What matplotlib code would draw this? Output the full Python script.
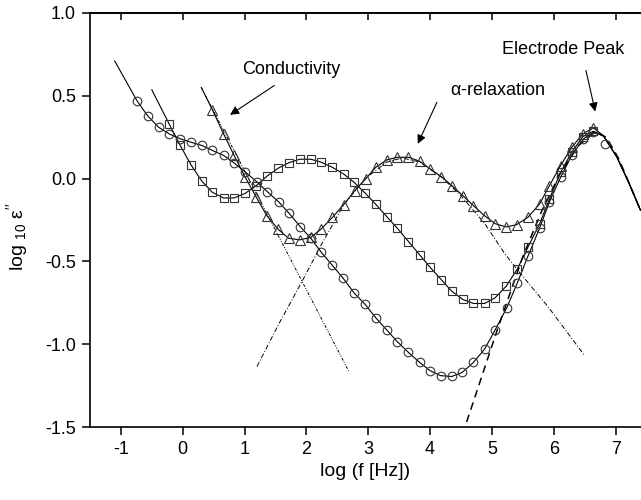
import matplotlib
matplotlib.use('Agg')
import matplotlib.pyplot as plt

plt.rcParams['font.family'] = ['Liberation Sans', 'DejaVu Sans']
plt.rcParams['mathtext.fontset'] = 'custom'
plt.rcParams['mathtext.rm'] = 'Liberation Sans'
plt.rcParams['axes.unicode_minus'] = False

# data (x = log f, y = log10 eps'')
circ_x = [-0.74, -0.57, -0.39, -0.22, -0.04, 0.13, 0.31, 0.48, 0.66, 0.83, 1.01, 1.20, 1.37,
          1.55, 1.72, 1.90, 2.07, 2.24, 2.41, 2.59, 2.77, 2.95, 3.12, 3.30, 3.47, 3.65, 3.83,
          4.00, 4.17, 4.35, 4.52, 4.70, 4.88, 5.05, 5.24, 5.41, 5.58, 5.77, 5.93, 6.11, 6.29,
          6.48, 6.64, 6.82]
circ_y = [0.47, 0.38, 0.31, 0.27, 0.24, 0.22, 0.20, 0.17, 0.14, 0.095, 0.04, -0.02, -0.08,
          -0.14, -0.21, -0.29, -0.36, -0.445, -0.52, -0.60, -0.69, -0.76, -0.84, -0.915, -0.985,
          -1.05, -1.11, -1.16, -1.19, -1.195, -1.17, -1.11, -1.03, -0.915, -0.78, -0.63, -0.47,
          -0.30, -0.14, 0.008, 0.14, 0.24, 0.28, 0.21]

sq_x = [-0.22, -0.04, 0.13, 0.31, 0.48, 0.66, 0.83, 1.01, 1.19, 1.36, 1.54, 1.71, 1.89, 2.07,
        2.24, 2.42, 2.60, 2.77, 2.95, 3.12, 3.30, 3.47, 3.65, 3.83, 4.00, 4.18, 4.35, 4.53,
        4.70, 4.88, 5.05, 5.23, 5.41, 5.58, 5.77, 5.93, 6.11, 6.29, 6.47, 6.64]
sq_y = [0.33, 0.20, 0.085, -0.016, -0.083, -0.117, -0.117, -0.089, -0.042, 0.014, 0.062, 0.095,
        0.117, 0.117, 0.099, 0.068, 0.028, -0.022, -0.088, -0.155, -0.23, -0.30, -0.38, -0.46,
        -0.536, -0.61, -0.68, -0.73, -0.754, -0.754, -0.72, -0.65, -0.546, -0.415, -0.274,
        -0.123, 0.038, 0.159, 0.254, 0.286]

tri_x = [0.48, 0.66, 0.83, 1.01, 1.19, 1.36, 1.54, 1.71, 1.89, 2.07, 2.24, 2.42, 2.60, 2.78,
         2.96, 3.12, 3.30, 3.47, 3.65, 3.83, 4.00, 4.18, 4.35, 4.53, 4.70, 4.88, 5.05, 5.23,
         5.40, 5.58, 5.77, 5.93, 6.11, 6.29, 6.47, 6.64]
tri_y = [0.415, 0.27, 0.14, 0.008, -0.113, -0.224, -0.305, -0.36, -0.37, -0.355, -0.304, -0.234,
         -0.158, -0.073, 0.0, 0.068, 0.113, 0.129, 0.129, 0.105, 0.059, 0.012, -0.042, -0.103,
         -0.163, -0.224, -0.272, -0.292, -0.278, -0.234, -0.153, -0.042, 0.079, 0.189, 0.27, 0.306]

# start points of the fitted curves and the common tail past the electrode peak
circ_fit_start = (-1.10, 0.71)
sq_fit_start = (-0.50, 0.536)
tri_fit_start = (0.30, 0.55)
tail_x = [6.80, 7.02, 7.21, 7.40]
tail_y = [0.26, 0.13, -0.022, -0.19]

# model components (triangle set)
cond_x = [0.30, 2.68]
cond_y = [0.55, -1.16]
alpha_x = [1.20, 1.55, 1.93, 2.24, 2.60, 2.95, 3.30, 3.55, 3.83, 4.18, 4.49, 4.88, 5.21, 5.49, 5.92, 6.50]
alpha_y = [-1.135, -0.88, -0.62, -0.40, -0.16, 0.0, 0.10, 0.125, 0.10, 0.01, -0.10, -0.27, -0.455, -0.586, -0.78, -1.07]
elec_x = [4.59, 5.08, 5.50, 5.80, 6.10, 6.40, 6.66, 6.85, 7.05, 7.22, 7.40]
elec_y = [-1.47, -0.92, -0.47, -0.20, 0.03, 0.20, 0.28, 0.25, 0.12, -0.03, -0.19]

xticks = [-1, 0, 1, 2, 3, 4, 5, 6, 7]
yticks = [-1.5, -1.0, -0.5, 0.0, 0.5, 1.0]
ytick_labels = ['-1.5', '-1.0', '-0.5', '0.0', '0.5', '1.0']

fig = plt.figure(figsize=(6.41, 5.0), dpi=100)
ax = fig.add_axes([0.1404, 0.146, 0.8596, 0.828])

lw_fit = 0.8
ax.plot([circ_fit_start[0]] + circ_x[:-1] + tail_x, [circ_fit_start[1]] + circ_y[:-1] + tail_y,
        color='black', lw=lw_fit)
ax.plot([sq_fit_start[0]] + sq_x + tail_x, [sq_fit_start[1]] + sq_y + tail_y, color='black', lw=lw_fit)
ax.plot([tri_fit_start[0]] + tri_x + tail_x, [tri_fit_start[1]] + tri_y + tail_y, color='black', lw=lw_fit)

ax.plot(cond_x, cond_y, color='black', lw=0.7, linestyle=(0, (3, 1.5, 1, 1.5, 1, 1.5)))
ax.plot(alpha_x, alpha_y, color='black', lw=0.7, linestyle=(0, (5, 2, 1, 2)))
ax.plot(elec_x, elec_y, color='black', lw=1.1, linestyle=(0, (5, 3.5)))

mk = dict(linestyle='none', markerfacecolor='none', markeredgecolor='#333333', markeredgewidth=0.8)
ax.plot(circ_x, circ_y, marker='o', markersize=6.2, **mk)
ax.plot(sq_x, sq_y, marker='s', markersize=5.2, **mk)
ax.plot(tri_x, tri_y, marker='^', markersize=6.5, **mk)

fs = 13
arrow = dict(arrowstyle='-|>', color='black', lw=0.8, mutation_scale=13, shrinkA=0, shrinkB=0)
ax.annotate('', xy=(0.765, 0.385), xytext=(1.48, 0.562), arrowprops=arrow)
ax.text(1.75, 0.66, 'Conductivity', fontsize=fs, ha='center', va='center')
ax.annotate('', xy=(3.80, 0.21), xytext=(4.11, 0.461), arrowprops=arrow)
ax.text(5.09, 0.532, r'$\mathregular{\alpha}$-relaxation', fontsize=fs, ha='center', va='center')
ax.annotate('', xy=(6.67, 0.405), xytext=(6.52, 0.653), arrowprops=arrow)
ax.text(6.15, 0.78, 'Electrode Peak', fontsize=fs, ha='center', va='center')

ax.set_xlim(-1.5, 7.41)
ax.set_ylim(-1.5, 1.0)
ax.set_xticks(xticks)
ax.set_yticks(yticks)
ax.set_yticklabels(ytick_labels)
ax.tick_params(axis='both', direction='out', length=6, width=1.1, labelsize=fs, pad=4)
for s in ['left', 'bottom', 'top']:
    ax.spines[s].set_linewidth(1.2)
ax.spines['right'].set_visible(False)

# top axis: ticks pointing inward, no labels
top = ax.secondary_xaxis('top')
top.set_xticks(xticks)
top.tick_params(direction='in', length=5, width=1.1, labeltop=False)
top.spines['top'].set_linewidth(1.2)

ax.set_xlabel('log (f [Hz])', fontsize=14)
ax.set_ylabel(r'log $\mathregular{_{10}}$ ε$\mathregular{^{\prime\prime}}$', fontsize=14)
ax.yaxis.set_label_coords(-0.108, 0.46)

fig.savefig('out.png', dpi=100)
